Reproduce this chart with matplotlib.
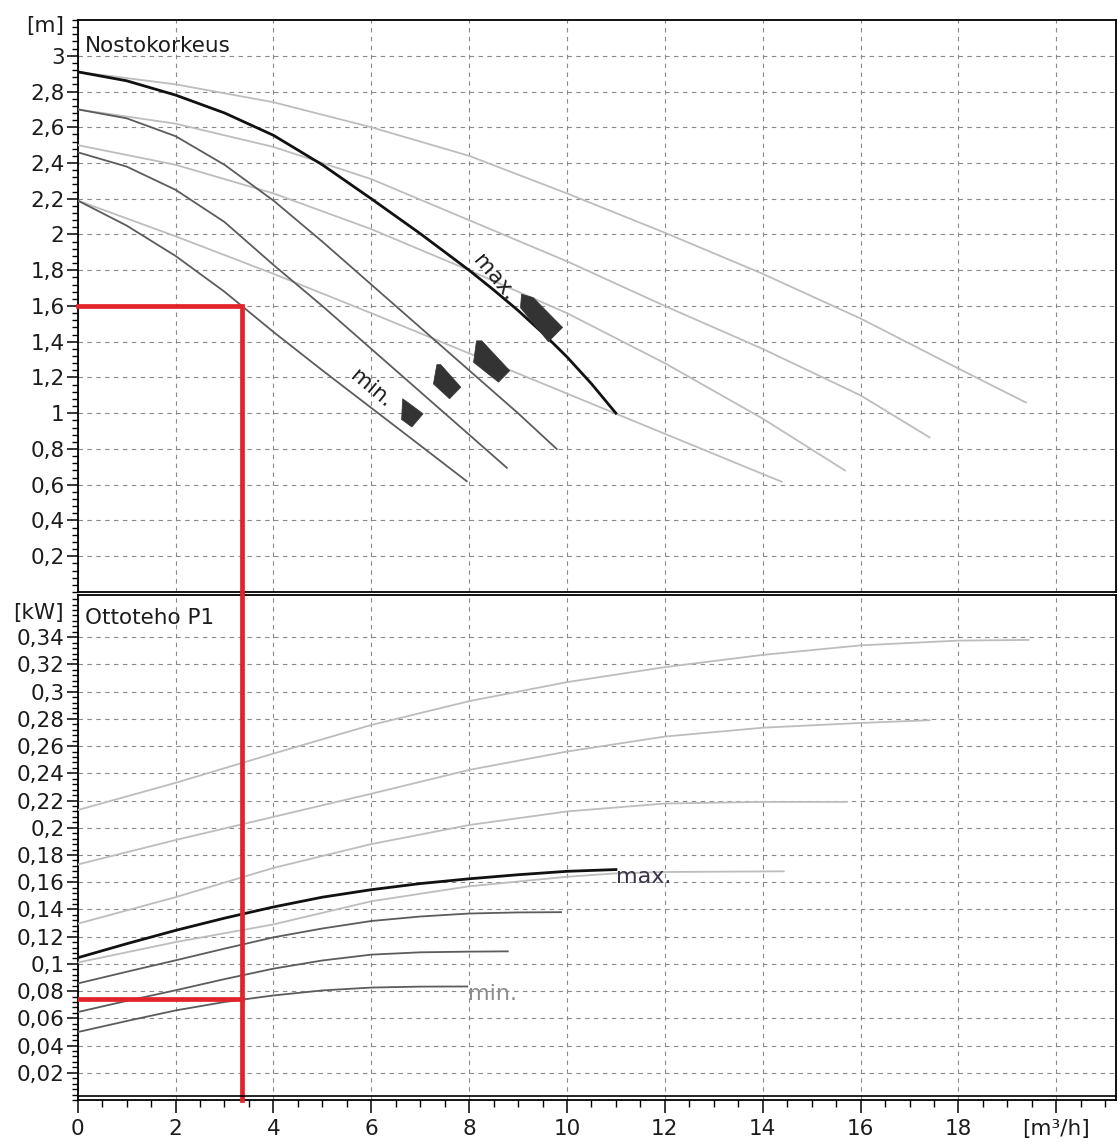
import numpy as np
import matplotlib
matplotlib.use("Agg")
import matplotlib.pyplot as plt
from matplotlib.ticker import FixedLocator, MultipleLocator
from matplotlib.patches import Polygon

# --- head curves (Nostokorkeus), flow in m3/h, head in m ---
# dark curves = speed steps of the pump, max (black) .. min
q_max = [0, 1, 2, 3, 4, 5, 6, 7, 8, 8.5, 9, 9.5, 10, 10.5, 11]
h_max = [2.91, 2.86, 2.78, 2.68, 2.555, 2.39, 2.20, 2.005, 1.80, 1.69, 1.575, 1.45, 1.315, 1.165, 1.00]
q_s2 = [0, 1, 2, 3, 4, 5, 6, 7, 8, 9, 9.79]
h_s2 = [2.70, 2.65, 2.55, 2.39, 2.19, 1.96, 1.72, 1.48, 1.24, 1.00, 0.80]
q_s3 = [0, 1, 2, 3, 4, 5, 6, 7, 8, 8.77]
h_s3 = [2.46, 2.38, 2.25, 2.07, 1.83, 1.60, 1.36, 1.12, 0.88, 0.695]
q_min = [0, 1, 2, 3, 4, 5, 6, 7, 7.95]
h_min = [2.19, 2.05, 1.88, 1.68, 1.455, 1.24, 1.03, 0.82, 0.62]

# light curves (wider flow range)
q_l1 = [0, 2, 4, 6, 8, 10, 12, 14, 16, 18, 19.38]
h_l1 = [2.91, 2.84, 2.74, 2.60, 2.44, 2.23, 2.01, 1.78, 1.53, 1.25, 1.06]
q_l2 = [0, 2, 4, 6, 8, 10, 12, 14, 16, 17.41]
h_l2 = [2.70, 2.62, 2.49, 2.31, 2.08, 1.85, 1.60, 1.36, 1.10, 0.865]
q_l3 = [0, 2, 4, 6, 8, 10, 12, 14, 15.68]
h_l3 = [2.50, 2.39, 2.23, 2.03, 1.80, 1.56, 1.28, 0.97, 0.68]
q_l4 = [0, 2, 4, 6, 8, 10, 12, 14, 14.39]
h_l4 = [2.19, 1.99, 1.78, 1.56, 1.335, 1.11, 0.885, 0.66, 0.617]

# --- input power curves (Ottoteho P1), kW ---
qp_max = [0, 1, 2, 3, 4, 5, 6, 7, 8, 9, 10, 11]
p_max = [0.1045, 0.1148, 0.1246, 0.1336, 0.1418, 0.149, 0.1545, 0.159, 0.1625, 0.1655, 0.168, 0.1693]
qp_s2 = [0, 1, 2, 3, 4, 5, 6, 7, 8, 9, 9.88]
p_s2 = [0.0856, 0.0942, 0.1026, 0.1112, 0.1195, 0.126, 0.1315, 0.1348, 0.137, 0.1378, 0.138]
qp_s3 = [0, 1, 2, 3, 4, 5, 6, 7, 8, 8.79]
p_s3 = [0.0646, 0.0728, 0.0806, 0.0888, 0.0965, 0.1025, 0.1068, 0.1085, 0.109, 0.1092]
qp_min = [0, 1, 2, 3, 4, 5, 6, 7, 7.96]
p_min = [0.0499, 0.058, 0.0658, 0.072, 0.0768, 0.0805, 0.0826, 0.0833, 0.0834]

qp_l1 = [0, 2, 4, 6, 8, 10, 12, 14, 16, 18, 19.43]
p_l1 = [0.213, 0.233, 0.2545, 0.2755, 0.293, 0.307, 0.318, 0.327, 0.334, 0.3375, 0.338]
qp_l2 = [0, 2, 4, 6, 8, 10, 12, 14, 16, 17.41]
p_l2 = [0.173, 0.191, 0.208, 0.225, 0.2425, 0.256, 0.267, 0.2735, 0.277, 0.279]
qp_l3 = [0, 2, 4, 6, 8, 10, 12, 14, 15.72]
p_l3 = [0.1295, 0.149, 0.1705, 0.188, 0.202, 0.212, 0.2178, 0.219, 0.219]
qp_l4 = [0, 2, 4, 6, 8, 10, 11, 12, 14.43]
p_l4 = [0.101, 0.116, 0.129, 0.146, 0.157, 0.164, 0.1665, 0.1675, 0.168]

# efficiency markers near the curves (vertices: flow, head)
eff_max = [(9.07, 1.666), (9.31, 1.647), (9.91, 1.48), (9.62, 1.40), (9.05, 1.59)]
eff_s2 = [(8.15, 1.405), (8.26, 1.405), (8.83, 1.238), (8.60, 1.174), (8.09, 1.285)]
eff_s3 = [(7.34, 1.272), (7.42, 1.272), (7.83, 1.146), (7.60, 1.081), (7.27, 1.164)]
eff_min = [(6.64, 1.081), (6.76, 1.058), (7.06, 0.997), (6.83, 0.923), (6.62, 0.965)]

# duty point
q_duty = 3.35
h_duty = 1.6
p_duty = 0.0745

x_ticks = [0, 2, 4, 6, 8, 10, 12, 14, 16, 18, 20]
x_labels = ["0", "2", "4", "6", "8", "10", "12", "14", "16", "18", "[m³/h]"]
h_ticks = [0.2, 0.4, 0.6, 0.8, 1.0, 1.2, 1.4, 1.6, 1.8, 2.0, 2.2, 2.4, 2.6, 2.8, 3.0]
p_ticks = [0.02, 0.04, 0.06, 0.08, 0.10, 0.12, 0.14, 0.16, 0.18, 0.20,
           0.22, 0.24, 0.26, 0.28, 0.30, 0.32, 0.34]


def comma(v):
    return f"{v:g}".replace(".", ",")


plt.rcParams["font.family"] = ["DejaVu Sans"]
W, H = 1118, 1142
fig = plt.figure(figsize=(W / 100, H / 100), dpi=100)

left = 77.7 / W
width = (1116 - 77.7) / W
ax1 = fig.add_axes([left, 1 - 592 / H, width, 572 / H])
ax2 = fig.add_axes([left, 1 - 1100 / H, width, 505 / H])

DARK = "#5c5c5c"
LIGHT = "#bdbdbd"
RED = "#e2232a"
TXT = "#1c1c1c"
FS = 15.5

for ax in (ax1, ax2):
    ax.set_xlim(0, 21.22)
    ax.xaxis.set_major_locator(FixedLocator(x_ticks))
    ax.grid(True, which="major", color="#8a8a8a", lw=0.8, linestyle=(0, (4, 4)))
    for s in ax.spines.values():
        s.set_color("black")
        s.set_linewidth(1.3)
    ax.tick_params(axis="y", which="major", direction="out", length=8, width=1.1,
                   pad=1.5, labelsize=FS, labelcolor=TXT)
    ax.tick_params(axis="y", which="minor", direction="out", length=4.5, width=1.0)

# top panel
ax1.set_ylim(0, 3.2)
ax1.yaxis.set_major_locator(FixedLocator(h_ticks))
ax1.yaxis.set_minor_locator(MultipleLocator(0.04))
ax1.set_yticklabels([comma(v) for v in h_ticks])
ax1.tick_params(axis="x", length=0, labelbottom=False)

for q, h in [(q_l1, h_l1), (q_l2, h_l2), (q_l3, h_l3), (q_l4, h_l4)]:
    ax1.plot(q, h, color=LIGHT, lw=1.3, zorder=3)
for q, h in [(q_s2, h_s2), (q_s3, h_s3), (q_min, h_min)]:
    ax1.plot(q, h, color=DARK, lw=1.3, zorder=4)
ax1.plot(q_max, h_max, color="#111111", lw=2.0, zorder=5)

for verts in (eff_max, eff_s2, eff_s3, eff_min):
    ax1.add_patch(Polygon(verts, closed=True, facecolor="#333333", edgecolor="#333333",
                          lw=0.5, zorder=6))

ax1.plot([0, q_duty, q_duty], [h_duty, h_duty, 0], color=RED, lw=3.4,
         solid_joinstyle="miter", zorder=7, clip_on=False)

ax1.text(8.5, 1.76, "max.", rotation=-50, ha="center", va="center", fontsize=15.5,
         color=TXT, zorder=8)
ax1.text(6.0, 1.14, "min.", rotation=-40, ha="center", va="center", fontsize=15.5,
         color=TXT, zorder=8)
ax1.text(0.007, 0.955, "Nostokorkeus", transform=ax1.transAxes, ha="left", va="center",
         fontsize=15.5, color=TXT)
ax1.text(-0.013, 0.99, "[m]", transform=ax1.transAxes, ha="right", va="center",
         fontsize=FS, color=TXT)

# bottom panel
ax2.set_ylim(0, 0.371)
ax2.yaxis.set_major_locator(FixedLocator(p_ticks))
ax2.yaxis.set_minor_locator(MultipleLocator(0.004))
ax2.set_yticklabels([comma(v) for v in p_ticks])
ax2.xaxis.set_minor_locator(MultipleLocator(0.5))
ax2.set_xticklabels(x_labels)
ax2.tick_params(axis="x", which="major", direction="out", length=9, width=1.1,
                pad=5, labelsize=FS, labelcolor=TXT)
ax2.tick_params(axis="x", which="minor", direction="out", length=5, width=1.0)

for q, p in [(qp_l1, p_l1), (qp_l2, p_l2), (qp_l3, p_l3), (qp_l4, p_l4)]:
    ax2.plot(q, p, color=LIGHT, lw=1.3, zorder=3)
for q, p in [(qp_s2, p_s2), (qp_s3, p_s3), (qp_min, p_min)]:
    ax2.plot(q, p, color=DARK, lw=1.3, zorder=4)
ax2.plot(qp_max, p_max, color="#111111", lw=2.0, zorder=5)

ax2.plot([0, q_duty], [p_duty, p_duty], color=RED, lw=3.4, zorder=7)
ax2.plot([q_duty, q_duty], [0, 0.371], color=RED, lw=3.4, zorder=7, clip_on=False)

ax2.text(11.0, 0.164, "max.", ha="left", va="center", fontsize=16, color="#3b3347",
         zorder=8)
ax2.text(7.98, 0.078, "min.", ha="left", va="center", fontsize=16, color="#8c8c8c",
         zorder=8)
ax2.text(0.007, 0.955, "Ottoteho P1", transform=ax2.transAxes, ha="left", va="center",
         fontsize=15.5, color=TXT)
ax2.text(-0.013, 0.965, "[kW]", transform=ax2.transAxes, ha="right", va="center",
         fontsize=FS, color=TXT)

# second line of the double axis line at the bottom
ax2.plot([0, 1], [0.008, 0.008], transform=ax2.transAxes, color="black", lw=1.2,
         clip_on=False, zorder=9)

fig.savefig("out.png", dpi=100)
